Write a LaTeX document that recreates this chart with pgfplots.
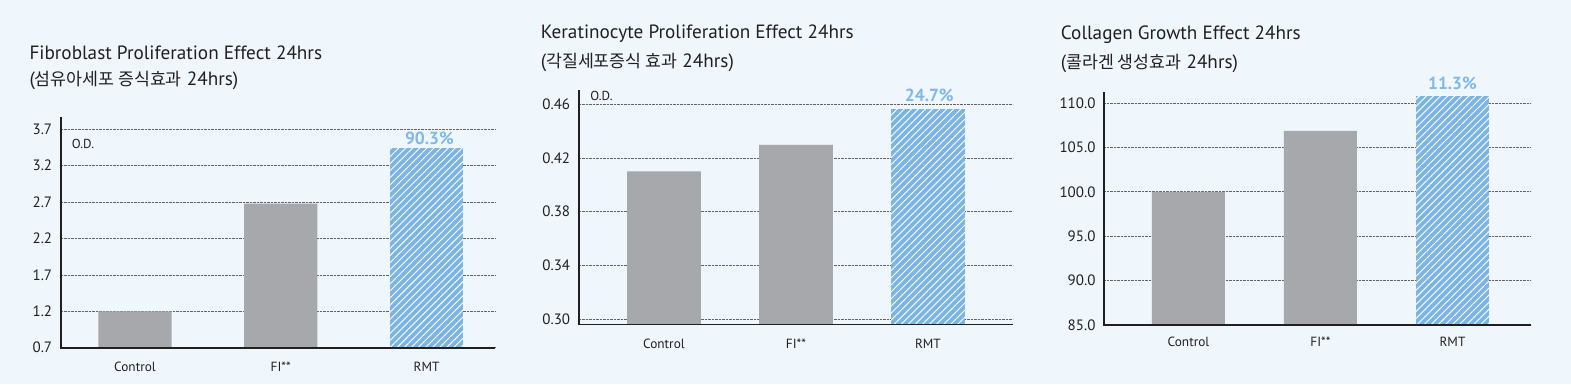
\documentclass[border=0pt]{standalone}
\usepackage{pgfplots}
\pgfplotsset{compat=1.18}
\usepackage{fontspec}
\setmainfont{PT Sans}
\newfontfamily\kr[Scale=0.9]{Noto Sans CJK KR}
\usetikzlibrary{patterns.meta}
\definecolor{bgc}{HTML}{EFF6FC}
\definecolor{barg}{HTML}{A7A8AB}
\definecolor{barb}{HTML}{7CB5E4}
\definecolor{labb}{HTML}{80B9E8}
\definecolor{txt}{HTML}{231F20}
\tikzset{
  pct/.style={font=\fontsize{17.5}{20}\selectfont\bfseries, text=labb},
  odl/.style={font=\fontsize{13}{15}\selectfont, text=txt},
  ttl/.style={anchor=west, text=txt, font=\fontsize{19.2}{23}\selectfont, inner sep=0pt},
}
\pgfplotsset{
  mychart/.style={
    scale only axis, anchor=south west,
    axis line style={draw=none},
    clip mode=individual,
    ymajorgrids,
    grid style={densely dotted, line width=0.6pt, color=txt!70},
    major tick length=0pt,
    xtick={0,1,2},
    xticklabels={Control,FI**,RMT},
    xticklabel style={font=\fontsize{13.3}{15}\selectfont, text=txt, yshift=-11pt},
    yticklabel style={font=\fontsize{15}{17}\selectfont, text=txt, xshift=-5pt},
    ybar, bar shift=0pt,
  },
  gbar/.style={fill=barg, draw=none},
  bbar/.style={fill=barb, draw=none, postaction={pattern={Lines[angle=45,distance=5pt,line width=0.9pt]}, pattern color=white}},
}
\begin{document}
\begin{tikzpicture}
\fill[bgc] (0pt,0pt) rectangle (1571pt,384pt);
% titles
\node[ttl] at (29.3pt,331.3pt) {Fibroblast Proliferation Effect 24hrs};
\node[ttl] at (29.3pt,303.3pt) {({\kr 섬유아세포 증식효과} 24hrs)};
\node[ttl] at (540.7pt,350pt) {Keratinocyte Proliferation Effect 24hrs};
\node[ttl] at (540.7pt,321.7pt) {({\kr 각질세포증식 효과} 24hrs)};
\node[ttl] at (1060.7pt,349pt) {Collagen Growth Effect 24hrs};
\node[ttl] at (1060.7pt,320.7pt) {({\kr 콜라겐 생성효과} 24hrs)};

% Chart 1
\begin{axis}[mychart, at={(60.7pt,36.3pt)}, width=434.3pt, height=230.4pt,
  xmin=-0.51, xmax=2.47, ymin=0.7, ymax=3.865, bar width=0.503,
  ytick={0.7,1.2,1.7,2.2,2.7,3.2,3.7},
  yticklabels={0.7,1.2,1.7,2.2,2.7,3.2,3.7}]
\addplot[gbar] coordinates {(0,1.20) (1,2.68)};
\addplot[bbar] coordinates {(2,3.45)};
\node[pct, yshift=9.5pt] at (axis cs:2.02,3.45) {90.3\%};
\node[odl] at (axis cs:-0.357,3.498) {O.D.};
\draw[txt, line width=1.6pt] (rel axis cs:0,1) -- (rel axis cs:0,0) -- (rel axis cs:1,0);
\end{axis}

% Chart 2
\begin{axis}[mychart, at={(578.7pt,59.7pt)}, width=434pt, height=234.3pt,
  xmin=-0.646, xmax=2.642, ymin=0.296, ymax=0.4707, bar width=0.56,
  ytick={0.30,0.34,0.38,0.42,0.46},
  yticklabels={0.30,0.34,0.38,0.42,0.46}]
\addplot[gbar] coordinates {(0,0.410) (1,0.4297)};
\addplot[bbar] coordinates {(2,0.4565)};
\node[pct, yshift=14pt] at (axis cs:2.01,0.4565) {24.7\%};
\node[odl] at (axis cs:-0.473,0.4662) {O.D.};
\draw[txt, line width=1.6pt] (rel axis cs:0,1) -- (rel axis cs:0,0) -- (rel axis cs:1,0);
\end{axis}

% Chart 3
\begin{axis}[mychart, at={(1104pt,59pt)}, width=427pt, height=232.7pt,
  xmin=-0.64, xmax=2.595, ymin=85, ymax=111.2, bar width=0.553,
  ytick={85,90,95,100,105,110},
  yticklabels={85.0,90.0,95.0,100.0,105.0,110.0},
  xticklabel style={yshift=2.3pt}]
\addplot[gbar] coordinates {(0,100.0) (1,106.85)};
\addplot[bbar] coordinates {(2,110.8)};
\node[pct, yshift=12.7pt] at (axis cs:2,110.8) {11.3\%};
\draw[txt, line width=1.6pt] (rel axis cs:0,1) -- (rel axis cs:0,0) -- (rel axis cs:1,0);
\end{axis}
\end{tikzpicture}
\end{document}
